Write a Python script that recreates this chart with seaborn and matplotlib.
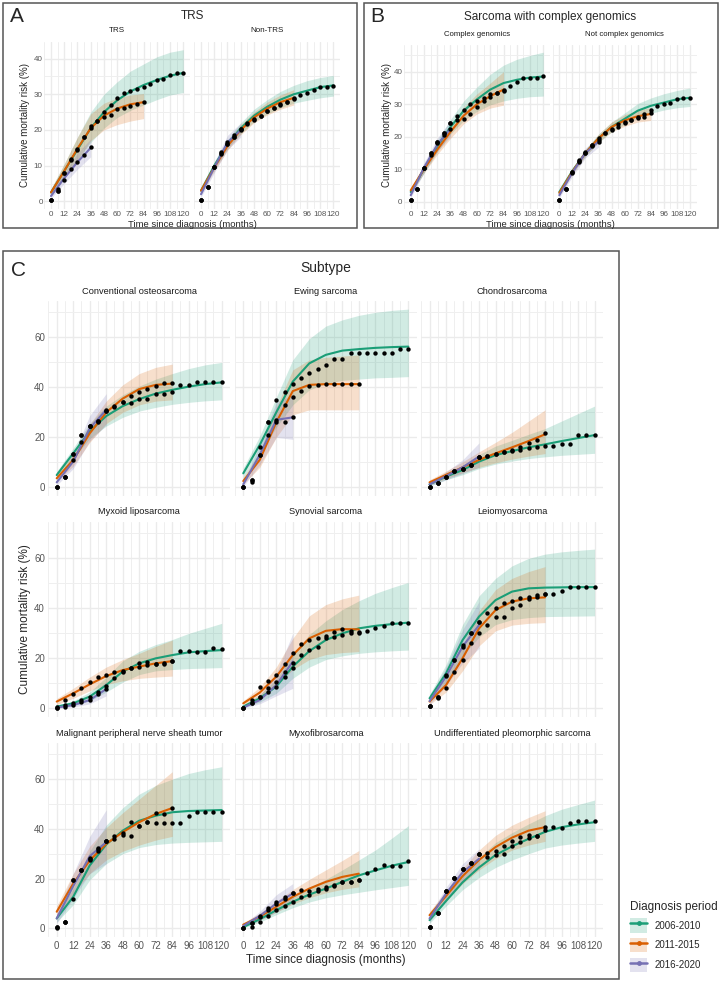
import numpy as np
import pandas as pd
import matplotlib
matplotlib.use("Agg")
import matplotlib.pyplot as plt
from matplotlib.patches import Rectangle, Patch
from matplotlib.lines import Line2D
import seaborn as sns

# periods and colours
periods = ['2006-2010', '2011-2015', '2016-2020']
period_colors = ['#1B9E77', '#D95F02', '#7570B3']

# each list: [2006-2010, 2011-2015, 2016-2020]
# fit / lo / hi every 12 months, obs every 6 months

# ---- panel A: TRS ----
trs_fit = [[2.5, 8.5, 14.5, 20.5, 25, 28.3, 30.8, 32.6, 34, 35.2, 36],
           [2.5, 8.5, 14.8, 20.5, 24, 26, 27.2, 27.8],
           [1.5, 6.5, 11, 15]]
trs_lo = [[1.5, 6.5, 11.5, 16.5, 20.5, 23.5, 25.5, 27, 28.5, 29.8, 30.5],
          [1.5, 6.5, 11.5, 17, 20, 21.5, 22.5, 23.2],
          [0.8, 5, 9, 12.5]]
trs_hi = [[3.5, 10.5, 18, 25, 30, 33.5, 36.5, 38.5, 40.5, 41.8, 42.5],
          [3.5, 10.5, 18, 24.5, 27.5, 29, 29.8, 30.2],
          [2.5, 8, 13.5, 17.5]]
trs_obs = [[0.3, 3.5, 8, 11.8, 14.8, 18, 21, 22.5, 25, 27, 29, 30.3, 30.8, 31.5, 32, 33, 34, 34.2, 35.5, 36, 36],
           [0.3, 3, 8, 11.5, 14.5, 18, 20.5, 22.5, 23.5, 24.3, 25.8, 26.3, 26.8, 27.2, 27.8],
           [0.3, 3, 6, 9, 11, 13, 15.2]]

nontrs_fit = [[3, 10, 16, 20.5, 24, 26.5, 28.5, 30, 31, 32, 32.5],
              [3, 9.5, 15.5, 20, 23.5, 26, 27.8, 29],
              [2, 9.5, 16.5, 20]]
nontrs_lo = [[2.5, 9, 14.8, 19, 22.3, 24.5, 26.2, 27.5, 28.3, 29, 29.5],
             [2.3, 8.5, 14.3, 18.7, 22, 24.2, 25.8, 27],
             [1.2, 8, 14.5, 18]]
nontrs_hi = [[3.5, 11, 17.3, 22, 25.8, 28.5, 30.8, 32.5, 33.8, 34.7, 35.3],
             [3.7, 10.5, 16.8, 21.5, 25, 27.8, 29.8, 31.3],
             [2.8, 11, 18.5, 22]]
nontrs_obs = [[0.5, 4, 9.5, 13.5, 16, 18, 20.3, 22, 22.7, 24, 25.2, 26.3, 27.3, 27.8, 29, 29.8, 30.5, 31.2, 32, 32, 32.3],
              [0.5, 4, 9.5, 13.2, 16, 18, 20, 21.8, 23, 24, 25.2, 26.2, 27, 27.8, 28.7],
              [0.5, 4, 9.5, 13.8, 16.5, 18.5, 20.3]]

# ---- panel B: complex genomics ----
cg_fit = [[3, 10, 17, 23, 28, 31.5, 34.5, 36.5, 37.5, 38.2, 38.5],
          [3.5, 10, 16, 21.5, 26.5, 30, 32.5, 34.5],
          [2, 10.5, 17.5, 22.5]]
cg_lo = [[2.3, 8.8, 15.3, 20.8, 25, 27.8, 29.8, 31, 31.8, 32.3, 32.5],
         [2.7, 8.8, 14.5, 19.5, 24, 27, 28.8, 29.7],
         [1.2, 9, 15.5, 20]]
cg_hi = [[3.7, 11.2, 18.7, 25.3, 31, 35.3, 39.2, 42, 43.8, 45, 46],
         [4.3, 11.2, 17.5, 23.5, 29, 33.2, 36.5, 40],
         [2.8, 12, 19.5, 25]]
cg_obs = [[0.5, 3.8, 10.5, 15, 18.5, 21, 24.3, 26.5, 28.3, 30, 31, 32, 33, 33.5, 34.5, 35.5, 36.8, 38.2, 38.2, 38, 38.6],
          [0.5, 3.8, 10.5, 14.5, 18, 20.5, 22.5, 25, 25.5, 27, 29.2, 31, 32.2, 33.5, 34.2],
          [0.5, 3.8, 10.5, 15, 18.5, 21, 24.3]]

ncg_fit = [[3, 9.5, 15, 19.5, 23, 25.5, 28, 29.5, 30.5, 31.5, 32],
           [2.7, 9.3, 15, 19.5, 23, 25, 26.3, 27],
           [2, 9, 15, 18.5]]
ncg_lo = [[2.5, 8.7, 14, 18.2, 21.5, 23.8, 25.8, 27.2, 28.2, 28.9, 29.3],
          [2, 8.5, 14, 18.3, 21.5, 23.2, 24.5, 25],
          [1.2, 7.8, 13.5, 16.8]]
ncg_hi = [[3.5, 10.3, 16, 20.8, 24.5, 27.3, 30.2, 31.9, 33.2, 34.2, 35],
          [3.4, 10.1, 16, 20.8, 24.5, 26.8, 28.1, 29],
          [2.8, 10.2, 16.5, 20.2]]
ncg_obs = [[0.5, 4, 9, 12.5, 15.2, 17.3, 19.5, 21, 22, 23, 24.2, 25, 26, 27, 28.3, 29.3, 30, 30.5, 31.5, 31.8, 32],
           [0.5, 4, 9, 12.8, 15, 17, 18.5, 21, 22.5, 23.8, 24.5, 25, 25.8, 26.2, 27.2],
           [0.5, 3.8, 8.8, 12.3, 15, 17.3, 19]]

# ---- panel C: subtypes ----
osteo_fit = [[4.9, 13.6, 22.5, 28.5, 32.5, 35.3, 37.5, 39, 40.3, 41.3, 42],
             [3.6, 10.9, 21.6, 30, 35.5, 39.3, 41, 41.5],
             [2, 10.3, 23.6, 31]]
osteo_lo = [[3.5, 11.5, 19.5, 24.5, 28, 30.5, 32, 33.2, 34, 34.6, 35],
            [2.2, 8.5, 18, 25.5, 30, 33, 34.5, 35],
            [0.8, 7.5, 18.5, 25]]
osteo_hi = [[6.3, 15.7, 25.5, 32.5, 37, 40.5, 43.3, 45.5, 47.5, 49, 50],
            [5, 13.3, 25.2, 34.5, 41, 45.5, 48, 49.3],
            [3.2, 13.1, 28.7, 37.5]]
osteo_obs = [[0.3, 4.3, 13.2, 21, 24.5, 26.5, 30.5, 32, 34, 33.9, 35.3, 35.3, 37.2, 37.2, 38, 41, 41, 42.3, 42, 42, 42],
             [0.3, 4.3, 13.2, 21, 24.5, 26.5, 30.5, 32.5, 34.3, 36.7, 38, 39.3, 40.5, 41.6, 41.9],
             [0.3, 4.3, 11, 18, 24.5, 26, 31]]

ewing_fit = [[5.6, 17, 30, 42.3, 49.6, 53, 54.7, 55.3, 55.8, 56.1, 56.3],
             [2.5, 11, 26, 38.5, 41, 41.3, 41.3, 41.3],
             [1.2, 13, 27, 28]]
ewing_lo = [[3.5, 13.5, 24, 33, 39, 41.5, 42.8, 43.3, 43.8, 44, 44.3],
            [1.2, 8, 20, 29, 31, 31, 31, 31],
            [0.3, 9, 20, 19.2]]
ewing_hi = [[7.7, 20.5, 36, 51, 59.5, 64.5, 67, 68.8, 70, 70.8, 71.3],
            [3.8, 14, 32, 47, 51, 52, 52.5, 53],
            [2.1, 17, 34, 37]]
ewing_obs = [[0.3, 3, 16.3, 26.3, 35, 38, 41.3, 43.6, 45.6, 47.5, 49, 51.5, 51.5, 53.6, 53.6, 53.6, 53.6, 53.6, 53.6, 55.3, 55.3],
             [0.3, 3, 13, 21, 26.3, 33, 36, 38.5, 40.5, 41, 41.3, 41.3, 41.3, 41.3, 41.3],
             [0.3, 2, 13, 26.3, 27, 26.3, 28]]

chondro_fit = [[1.2, 4.3, 6.9, 10.3, 12.9, 14.5, 16, 17.2, 18.5, 19.7, 20.9],
               [2, 5, 8, 11, 13.6, 16, 18.5, 21.2],
               [1.2, 4.5, 8, 12.3]]
chondro_lo = [[0.5, 3, 5, 7.5, 9.3, 10.5, 11.5, 12.2, 12.8, 13.2, 13.6],
              [1, 3.5, 5.8, 8, 9.8, 11.3, 12.5, 13.5],
              [0.5, 3, 5.5, 8]]
chondro_hi = [[1.9, 5.6, 8.8, 13.1, 16.5, 18.8, 21.2, 23.5, 26.5, 29.5, 32.5],
              [3, 6.5, 10.2, 14.2, 18, 22, 26.5, 31],
              [1.9, 6.2, 11, 17.8]]
chondro_obs = [[0.3, 1.6, 4.3, 6.5, 7.3, 9, 12.3, 12.5, 13.2, 14, 14.5, 15, 15.6, 16.3, 16.7, 16.7, 17.3, 17.3, 21, 21, 21],
               [0.3, 1.6, 4.3, 6.5, 7.3, 9, 12.3, 12.5, 13.2, 14, 15, 16.3, 17.6, 19, 21.6],
               [0.3, 1.6, 4.3, 6.5, 7.3, 9, 12.3]]

myxlipo_fit = [[0.7, 2, 4.7, 9.3, 14.7, 18, 20, 21.3, 22.4, 22.9, 23.3],
               [2.7, 6, 9.6, 12.9, 15.3, 16.7, 18, 18.9],
               [0.3, 1.3, 3.3, 7.7]]
myxlipo_lo = [[0.2, 1, 3, 6.5, 10.5, 13.5, 15, 15.5, 15.9, 16.1, 16.3],
              [1.5, 4, 7, 9.5, 11, 12, 12.5, 12.9],
              [0, 0.5, 1.8, 5]]
myxlipo_hi = [[1.2, 3, 6.5, 12.5, 19, 22.8, 25.5, 27.5, 30, 32, 34],
              [3.9, 8, 12.5, 16.5, 19.5, 22, 24.8, 27.3],
              [0.6, 2.2, 5, 10.7]]
myxlipo_obs = [[0.3, 1.3, 2, 3.3, 4.7, 6.7, 9, 12, 14.7, 16, 16.7, 18.7, 17.6, 17.6, 19, 22.9, 22.9, 22.7, 22.7, 24, 23.7],
               [0.7, 3.3, 5.7, 8, 10.7, 12.4, 13.3, 14.7, 15, 16, 18, 17.3, 17.6, 18.3, 19],
               [0.3, 0.7, 1.3, 2.7, 3.3, 5.7, 7.6]]

synovial_fit = [[0.7, 4, 8.7, 16.7, 22.9, 27.3, 30, 32, 33, 33.7, 34.3],
                [2, 6.3, 12.7, 21.3, 28, 31, 31.7, 31.6],
                [0.3, 3.3, 9.3, 18.7]]
synovial_lo = [[0.2, 2.5, 6, 12, 16.5, 19.5, 21, 22, 22.6, 23, 23.3],
               [1, 4.3, 9, 15.5, 19.5, 21.5, 22.3, 22.7],
               [0, 1.8, 5, 8]]
synovial_hi = [[1.2, 5.5, 11.5, 21.5, 29.5, 35, 39.5, 43, 46, 48.3, 50.4],
               [3, 8.5, 16.5, 28, 37, 41.5, 43.8, 45.3],
               [0.6, 5, 14, 30]]
synovial_obs = [[0.3, 2, 4.7, 6.5, 8.7, 12.5, 16, 21.3, 23.3, 24.7, 28, 28.7, 29.3, 30.3, 30.3, 31, 32.3, 33, 34.3, 34.3, 34.3],
                [0.3, 3.3, 8.7, 11, 13.3, 17.6, 22, 25.6, 27.3, 28, 29, 30.7, 31.6, 31, 30.7],
                [0.3, 2, 4.7, 8, 10.7, 14.7, 18]]

leio_fit = [[4, 14, 27.3, 36.7, 43.3, 46.7, 48, 48.3, 48.4, 48.5, 48.5],
            [2.7, 9.3, 20, 32, 39.3, 42.7, 44, 44.4],
            [2.9, 12.7, 24.7, 33.3]]
leio_lo = [[2.5, 10.5, 21, 28.5, 33.5, 35.5, 36.3, 36.7, 36.8, 36.9, 37],
           [1.5, 6.5, 15, 25, 31, 33.3, 34, 34.3],
           [1.5, 9, 18, 24]]
leio_hi = [[5.5, 17.5, 33.5, 45, 52, 57, 60, 61.7, 62.6, 63.2, 63.7],
           [3.9, 12.1, 25, 39, 47.5, 52, 54.7, 56.7],
           [4.3, 16.4, 31.4, 42.7]]
leio_obs = [[1, 4.7, 13, 19.3, 25.3, 30, 34.7, 38, 40, 42, 43, 44, 44.7, 45.3, 45.6, 45.6, 47, 48.4, 48.4, 48.4, 48.4],
            [1, 4, 8.3, 14.7, 19.3, 26, 30, 33.3, 36.7, 36.7, 40, 41.3, 43.7, 44.7, 45.6],
            [1, 4.7, 13.3, 19.3, 24.7, 30, 34.7]]

mpnst_fit = [[4, 12.7, 25.3, 33.7, 39.3, 43.3, 45.3, 46.7, 47.2, 47.4, 47.6],
             [6.7, 18, 27.3, 34, 38.7, 42.7, 46, 48.4],
             [4, 17, 29, 34.7]]
mpnst_lo = [[2.5, 9.5, 19.5, 26, 30, 32.5, 33.7, 34.3, 34.6, 34.8, 35],
            [4.5, 14, 22, 27.5, 31, 33.5, 35.5, 37],
            [2, 12, 22, 26]]
mpnst_hi = [[5.5, 16, 31, 41.5, 48.5, 54, 57.5, 60, 62.3, 63.8, 65],
            [9, 22, 33, 40.5, 46.5, 52, 57.5, 63],
            [6, 22, 37, 47.7]]
mpnst_obs = [[0.7, 2.7, 12, 23.6, 27.3, 32, 35, 37, 37.6, 37.3, 41, 42.7, 42.4, 42.4, 42.4, 42.4, 45.3, 47, 47, 47, 47],
             [0, 2.7, 19.3, 23.6, 28.5, 31, 35, 36, 38.3, 42.7, 41, 42.7, 46.4, 46, 48.4],
             [0.7, 2.7, 19.3, 23.6, 28, 32.5, 35]]

myxofib_fit = [[0.5, 3.7, 7.3, 10.7, 13.6, 16, 18.7, 21.3, 23.3, 25.2, 26.7],
               [1.5, 4.7, 8.7, 12.7, 16, 18.7, 20.7, 22],
               [1, 5, 10, 14]]
myxofib_lo = [[0.1, 2.5, 5.5, 8.3, 10.6, 12.3, 13.5, 14.5, 15.5, 16.4, 17.3],
              [0.8, 3.3, 6.5, 9.8, 12.3, 14.3, 15.7, 16.7],
              [0.4, 3.2, 6.5, 10]]
myxofib_hi = [[0.9, 4.9, 9.1, 13.1, 16.6, 19.7, 23.5, 27.5, 31.5, 36.3, 41.3],
              [2.2, 6.1, 10.9, 15.6, 19.7, 23.5, 27.3, 31.3],
              [1.6, 6.8, 13.5, 18]]
myxofib_obs = [[0.3, 0.7, 2.4, 5, 7.3, 9, 10.7, 12.5, 13.3, 15, 16, 17, 18.7, 18.7, 19.6, 22.4, 24, 25.6, 25, 25, 27],
               [0.3, 2, 4.5, 7.5, 9.7, 12, 14.4, 15.3, 15, 16, 16.5, 17.5, 18.7, 18.7, 19.6],
               [0.3, 2, 5, 8, 10.5, 12.5, 14.4]]

ups_fit = [[3.3, 11, 18.5, 24.5, 29.5, 33, 36, 38.8, 40.7, 41.8, 42.7],
           [5.3, 13, 21, 27.5, 32.7, 36.5, 39.3, 40.7],
           [4, 14, 22.5, 28]]
ups_lo = [[2, 9, 15.5, 20.5, 24.5, 27.5, 30, 32.3, 33.5, 34.3, 35],
          [3.8, 11, 18, 23.5, 28, 31.5, 33.5, 35],
          [2.5, 11.5, 19, 24]]
ups_hi = [[4.6, 13, 21.5, 28.5, 34.5, 38.5, 42, 45.3, 47.9, 49.8, 51.6],
          [6.8, 15, 24, 31.5, 37.4, 41.5, 44.6, 47.3],
          [5.5, 16.5, 26, 32]]
ups_obs = [[0.7, 6, 15, 20.4, 24, 26.3, 30, 28.7, 29.7, 30, 33.3, 34.7, 36.3, 37, 40.7, 40.7, 40.3, 42.3, 43, 43, 43],
           [0.7, 6, 15, 20.4, 24, 26.3, 30, 30.5, 31.3, 33.3, 35.3, 36.7, 37.6, 37, 39.7],
           [0.7, 6, 15, 20.4, 24, 26.3, 30]]

x_ticks = list(range(0, 121, 12))

sns.set_theme(style='white')
plt.rcParams['font.family'] = ['Liberation Sans', 'DejaVu Sans']

W, H = 722, 982
fig = plt.figure(figsize=(W / 100, H / 100), dpi=100)


def px_axes(x0, y0, x1, y1):
    return fig.add_axes([x0 / W, 1 - y1 / H, (x1 - x0) / W, (y1 - y0) / H])


def px_text(x, y, s, **kw):
    kw.setdefault('ha', 'center')
    kw.setdefault('va', 'center')
    fig.text(x / W, 1 - y / H, s, **kw)


def px_box(x0, y0, x1, y1):
    fig.patches.append(Rectangle((x0 / W, 1 - y1 / H), (x1 - x0) / W, (y1 - y0) / H,
                                 transform=fig.transFigure, fill=False,
                                 ec='#555555', lw=1.1))


def to_long(series, step):
    rows = []
    for k, vals in enumerate(series):
        for i, v in enumerate(vals):
            rows.append((periods[k], i * step, v))
    return pd.DataFrame(rows, columns=['period', 'month', 'value'])


def draw_facet(ax, fit, lo, hi, obs, ylim, ymaj, ymin, show_x, show_y, fs, pad):
    for k in range(3):
        m = np.arange(len(fit[k])) * 12
        ax.fill_between(m, lo[k], hi[k], color=period_colors[k], alpha=0.2, lw=0, zorder=2)
    sns.lineplot(data=to_long(fit, 12), x='month', y='value', hue='period',
                 palette=period_colors, hue_order=periods, lw=1.5, legend=False,
                 ax=ax, zorder=3)
    sns.scatterplot(data=to_long(obs, 6), x='month', y='value', color='black',
                    s=10, linewidth=0, ax=ax, zorder=4)
    ax.set_xlim(-6, 126)
    ax.set_ylim(*ylim)
    ax.set_xticks(x_ticks)
    ax.set_xticks(list(range(-6, 127, 12)), minor=True)
    ax.set_yticks(ymaj)
    ax.set_yticks(ymin, minor=True)
    ax.grid(which='major', color='#EBEBEB', lw=1.0, zorder=0)
    ax.grid(which='minor', color='#EFEFEF', lw=0.7, zorder=0)
    ax.set_axisbelow(True)
    for s in ax.spines.values():
        s.set_visible(False)
    ax.tick_params(which='both', length=0, labelsize=fs, colors='#555555', pad=pad)
    ax.set_xlabel('')
    ax.set_ylabel('')
    if not show_x:
        ax.set_xticklabels([])
    if not show_y:
        ax.set_yticklabels([])


# ---------------- panel A ----------------
px_box(3, 3, 357, 228)
ylim_ab = (-2.2, 44.6)
a_facets = [('TRS', trs_fit, trs_lo, trs_hi, trs_obs, 44.4, 189.9),
            ('Non-TRS', nontrs_fit, nontrs_lo, nontrs_hi, nontrs_obs, 194.4, 340)]
for j, (name, f, l, h, o, x0, x1) in enumerate(a_facets):
    ax = px_axes(x0, 42.2, x1, 209.2)
    draw_facet(ax, f, l, h, o, ylim_ab, [0, 10, 20, 30, 40], [5, 15, 25, 35],
               True, j == 0, 5.8, 1.2)
    px_text((x0 + x1) / 2, 31, name, fontsize=5.8, color='#1a1a1a')
px_text(17, 17, 'A', fontsize=15)
px_text(192, 16, 'TRS', fontsize=8.5)
px_text(25, 125, 'Cumulative mortality risk (%)', rotation=90, fontsize=7)
px_text(192, 224.5, 'Time since diagnosis (months)', fontsize=6.8)

# ---------------- panel B ----------------
px_box(364, 3, 718, 228)
b_facets = [('Complex genomics', cg_fit, cg_lo, cg_hi, cg_obs, 404.1, 549.9),
            ('Not complex genomics', ncg_fit, ncg_lo, ncg_hi, ncg_obs, 552.8, 696.5)]
for j, (name, f, l, h, o, x0, x1) in enumerate(b_facets):
    ax = px_axes(x0, 44.7, x1, 209.2)
    draw_facet(ax, f, l, h, o, (-2.3, 48.3), [0, 10, 20, 30, 40], [5, 15, 25, 35, 45],
               True, j == 0, 5.8, 1.2)
    px_text((x0 + x1) / 2, 35, name, fontsize=5.6, color='#1a1a1a')
px_text(377, 17, 'B', fontsize=15)
px_text(550, 17, 'Sarcoma with complex genomics', fontsize=8.5)
px_text(387, 125, 'Cumulative mortality risk (%)', rotation=90, fontsize=7)
px_text(550, 224.5, 'Time since diagnosis (months)', fontsize=6.8)

# ---------------- panel C ----------------
px_box(3, 251, 619, 979)
c_facets = [('Conventional osteosarcoma', osteo_fit, osteo_lo, osteo_hi, osteo_obs),
            ('Ewing sarcoma', ewing_fit, ewing_lo, ewing_hi, ewing_obs),
            ('Chondrosarcoma', chondro_fit, chondro_lo, chondro_hi, chondro_obs),
            ('Myxoid liposarcoma', myxlipo_fit, myxlipo_lo, myxlipo_hi, myxlipo_obs),
            ('Synovial sarcoma', synovial_fit, synovial_lo, synovial_hi, synovial_obs),
            ('Leiomyosarcoma', leio_fit, leio_lo, leio_hi, leio_obs),
            ('Malignant peripheral nerve sheath tumor', mpnst_fit, mpnst_lo, mpnst_hi, mpnst_obs),
            ('Myxofibrosarcoma', myxofib_fit, myxofib_lo, myxofib_hi, myxofib_obs),
            ('Undifferentiated pleomorphic sarcoma', ups_fit, ups_lo, ups_hi, ups_obs)]
col_x = [(48.45, 230), (235, 416.6), (421.3, 602.8)]
row_y = [(301, 496.2), (522, 717.2), (743, 937.2)]
for i, (name, f, l, h, o) in enumerate(c_facets):
    r, c = divmod(i, 3)
    x0, x1 = col_x[c]
    y0, y1 = row_y[r]
    ax = px_axes(x0, y0, x1, y1)
    draw_facet(ax, f, l, h, o, (-3.55, 74.55), [0, 20, 40, 60], [10, 30, 50, 70],
               r == 2, c == 0, 7, 2.5)
    px_text((x0 + x1) / 2, y0 - 10, name, fontsize=6.7, color='#1a1a1a')
px_text(19, 270, 'C', fontsize=15)
px_text(325.7, 268, 'Subtype', fontsize=10)
px_text(25, 619, 'Cumulative mortality risk (%)', rotation=90, fontsize=8.5)
px_text(325.7, 960, 'Time since diagnosis (months)', fontsize=8.5)

# legend
handles = [(Patch(fc=c, alpha=0.2, ec='none'),
            Line2D([], [], color=c, lw=1.8, marker='o', ms=2.5)) for c in period_colors]
fig.legend(handles=handles, labels=periods, loc='upper left',
           bbox_to_anchor=(626 / W, 1 - 897 / H), frameon=False,
           title='Diagnosis period', title_fontsize=8.5, fontsize=7,
           handlelength=1.8, handleheight=1.9, labelspacing=0.55,
           handletextpad=0.7, alignment='left', borderaxespad=0)

fig.savefig('out.png', dpi=100)
